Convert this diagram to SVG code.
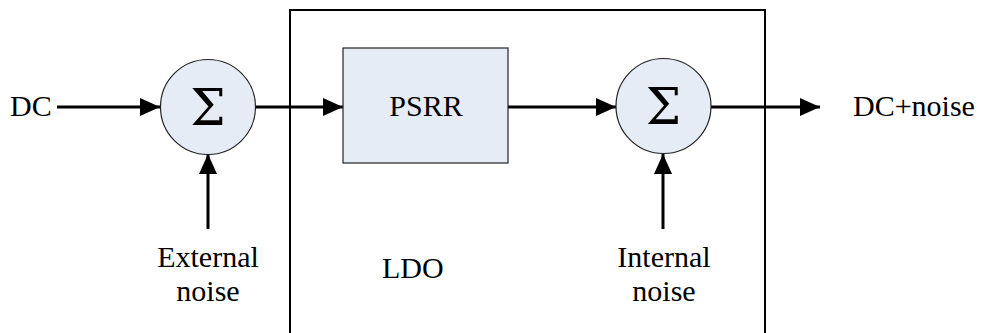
<svg xmlns="http://www.w3.org/2000/svg" width="981" height="333" viewBox="0 0 981 333">
  <style>
    .lbl { font-family: "Liberation Serif", "Times New Roman", serif; font-size: 30px; fill: #000; }
    .sigma { font-family: "DejaVu Serif", "Liberation Serif", serif; font-size: 50px; fill: #000; text-anchor: middle; }
    .block { fill: #e6ecf6; stroke: #222; stroke-width: 1.2; }
    .wire { stroke: #000; stroke-width: 3; fill: none; }
    .frame { stroke: #000; stroke-width: 2; fill: none; }
  </style>
  <defs>
    <marker id="arrow" markerUnits="userSpaceOnUse" markerWidth="20" markerHeight="20" refX="20" refY="9" orient="auto">
      <path d="M0,0 L20,9 L0,18 Z" fill="#000"/>
    </marker>
  </defs>

  <rect width="981" height="333" fill="#fff"/>

  <!-- LDO enclosure (open at the bottom edge) -->
  <g id="ldo">
    <path class="frame" d="M290,340 V10 H765 V340"/>
    <text class="lbl" x="382" y="278">LDO</text>
  </g>

  <!-- connectors -->
  <g id="connectors">
    <line class="wire" x1="57" y1="107" x2="160" y2="107" marker-end="url(#arrow)"/>
    <line class="wire" x1="255" y1="107" x2="343" y2="107" marker-end="url(#arrow)"/>
    <line class="wire" x1="508" y1="107" x2="616" y2="107" marker-end="url(#arrow)"/>
    <line class="wire" x1="711" y1="107" x2="820" y2="107" marker-end="url(#arrow)"/>
    <line class="wire" x1="208" y1="229" x2="208" y2="154" marker-end="url(#arrow)"/>
    <line class="wire" x1="663" y1="229" x2="663" y2="154" marker-end="url(#arrow)"/>
  </g>

  <g id="dc-in">
    <text class="lbl" x="10" y="116">DC</text>
  </g>

  <g id="sum1">
    <circle class="block" cx="208" cy="107" r="47.5"/>
    <text class="sigma" x="208" y="125">Σ</text>
  </g>

  <g id="psrr">
    <rect class="block" x="343" y="48" width="165" height="115"/>
    <text class="lbl" x="426" y="116" text-anchor="middle">PSRR</text>
  </g>

  <g id="sum2">
    <circle class="block" cx="663.5" cy="106" r="47.5"/>
    <text class="sigma" x="663.5" y="124">Σ</text>
  </g>

  <g id="dc-out">
    <text class="lbl" x="853" y="116">DC+noise</text>
  </g>

  <g id="ext-noise">
    <text class="lbl" x="208" y="267" text-anchor="middle">External</text>
    <text class="lbl" x="208" y="301" text-anchor="middle">noise</text>
  </g>

  <g id="int-noise">
    <text class="lbl" x="664" y="267" text-anchor="middle">Internal</text>
    <text class="lbl" x="664" y="301" text-anchor="middle">noise</text>
  </g>
</svg>
